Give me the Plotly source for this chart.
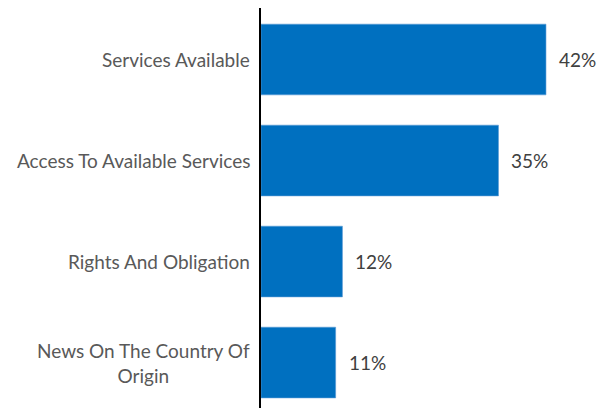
import plotly.graph_objects as go

categories = ["Services Available", "Access To Available Services",
              "Rights And Obligation", "News On The Country Of<br>Origin"]
values = [42, 35, 12, 11]
value_labels = [f"{v}%" for v in values]

BAR_COLOR = "#0070C0"
FONT = "Lato"

fig = go.Figure()
fig.add_trace(go.Bar(
    y=categories, x=values, orientation="h",
    marker=dict(color=BAR_COLOR, line=dict(color="#5B9BD5", width=0.6)),
    width=0.7, hoverinfo="skip",
))

annotations = []
for c, v, t in zip(categories, values, value_labels):
    annotations.append(dict(x=v, y=c, xref="x", yref="y", text=t,
                            showarrow=False, xanchor="left", xshift=11,
                            font=dict(family=FONT, size=19, color="#404040")))
    annotations.append(dict(x=0, y=c, xref="paper", yref="y", text=c,
                            showarrow=False, xanchor="right", align="center",
                            xshift=-9,
                            font=dict(family=FONT, size=19, color="#595959")))

fig.update_layout(
    width=597, height=400,
    margin=dict(l=253, r=0, t=0, b=0),
    paper_bgcolor="white", plot_bgcolor="white",
    showlegend=False,
    annotations=annotations,
    xaxis=dict(range=[0, 50.7], showgrid=False, zeroline=False,
               showticklabels=False, showline=False),
    yaxis=dict(range=[3.45, -0.51], showgrid=False, zeroline=False,
               showticklabels=False, showline=True, linecolor="black",
               linewidth=1.5),
)

fig.write_html("out.html")
